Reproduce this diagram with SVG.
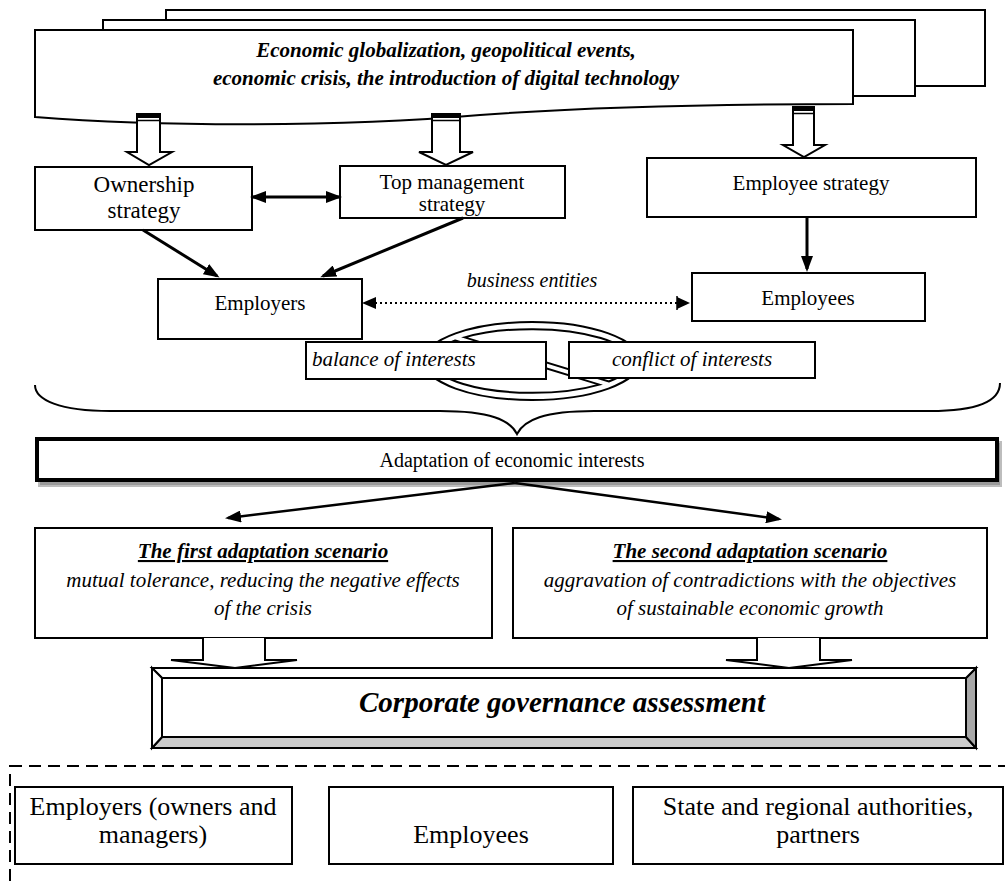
<svg xmlns="http://www.w3.org/2000/svg" width="1005" height="886" viewBox="0 0 1005 886">
<style>
.box{fill:#fff;stroke:#000;stroke-width:2}
.t{font-family:"Liberation Serif","Times New Roman","DejaVu Serif",serif;fill:#000}
.bi{font-weight:bold;font-style:italic}
.i{font-style:italic}
.ln{fill:none;stroke:#000;stroke-width:3}
.blk{fill:#fff;stroke:#000;stroke-width:2;stroke-linejoin:miter}
</style>
<defs>
<marker id="ah" viewBox="0 0 16 12" markerWidth="16" markerHeight="12" refX="13" refY="6" orient="auto-start-reverse" markerUnits="userSpaceOnUse">
<path d="M0,0 L16,6 L0,12 Z" fill="#000"/>
</marker>
</defs>

<g id="events">
<rect x="166" y="10" width="819" height="76" class="box"/>
<rect x="103" y="20" width="812" height="76" class="box"/>
<path d="M35,30 H853 V104 C760,104 600,106 480,115 C330,128 150,126 35,117 Z" class="box"/>
<text class="t bi" font-size="21" text-anchor="middle" x="446" y="57">Economic globalization, geopolitical events,</text>
<text class="t bi" font-size="21" text-anchor="middle" x="446" y="85">economic crisis, the introduction of digital technology</text>
</g>

<g id="block-arrows-top">
<path class="blk" d="M137,113 V152 H127 L149,165 L172,152 H160 V113"/>
<rect x="137" y="113" width="23" height="5" fill="#000"/>
<line x1="137" y1="120.5" x2="160" y2="120.5" stroke="#000" stroke-width="1.5"/>
<path class="blk" d="M432,113 V152 H419 L446,165 L473,152 H460 V113"/>
<rect x="432" y="113" width="28" height="5" fill="#000"/>
<line x1="432" y1="120.5" x2="460" y2="120.5" stroke="#000" stroke-width="1.5"/>
<path class="blk" d="M793,106 V145 H783 L804,157 L825,145 H814 V106"/>
<rect x="793" y="106" width="21" height="5" fill="#000"/>
<line x1="793" y1="113.5" x2="814" y2="113.5" stroke="#000" stroke-width="1.5"/>
</g>

<g id="ownership">
<rect x="35" y="167" width="217" height="63" class="box"/>
<text class="t" font-size="23" text-anchor="middle" x="144" y="192">Ownership</text>
<text class="t" font-size="23" text-anchor="middle" x="144" y="218">strategy</text>
</g>

<g id="topmanagement">
<rect x="340" y="166" width="225" height="52" class="box"/>
<text class="t" font-size="21" text-anchor="middle" x="452" y="189">Top management</text>
<text class="t" font-size="21" text-anchor="middle" x="452" y="211">strategy</text>
</g>

<g id="employeestrategy">
<rect x="647" y="158" width="329" height="59" class="box"/>
<text class="t" font-size="21" text-anchor="middle" x="811" y="190">Employee strategy</text>
</g>

<g id="employers">
<rect x="158" y="279" width="204" height="60" class="box"/>
<text class="t" font-size="21" text-anchor="middle" x="260" y="310">Employers</text>
</g>

<g id="employees">
<rect x="692" y="273" width="233" height="48" class="box"/>
<text class="t" font-size="21" text-anchor="middle" x="808" y="305">Employees</text>
</g>

<g id="business-entities">
<text class="t i" font-size="20" text-anchor="middle" x="532" y="287">business entities</text>
</g>

<g id="nosign">
<ellipse cx="532" cy="361" rx="108" ry="39" fill="#fff" stroke="#000" stroke-width="2"/>
<path d="M464.6,337.4 A100,32 0 0 1 608.8,381.5 Z" fill="#fff" stroke="#000" stroke-width="2"/>
<path d="M455.2,340.5 L599.4,384.6 A100,32 0 0 1 455.2,340.5 Z" fill="#fff" stroke="#000" stroke-width="2"/>
</g>

<g id="balance">
<rect x="306" y="342" width="240" height="37" class="box"/>
<text class="t i" font-size="21" x="312" y="366">balance of interests</text>
</g>

<g id="conflict">
<rect x="569" y="342" width="246" height="36" class="box"/>
<text class="t i" font-size="21" text-anchor="middle" x="692" y="366">conflict of interests</text>
</g>

<g id="brace">
<path d="M35,385 C35,400 60,411 110,411 L440,411 C490,411 510,420 517,434 C524,420 544,411 594,411 L930,411 C980,411 1000,400 1000,383" fill="none" stroke="#000" stroke-width="2"/>
</g>

<g id="adaptation">
<rect x="39" y="442" width="962" height="44" fill="#9a9a9a" stroke="#bdbdbd" stroke-width="2"/>
<rect x="37" y="439" width="960" height="41" fill="#fff" stroke="#000" stroke-width="4"/>
<text class="t" font-size="20" text-anchor="middle" x="512" y="467">Adaptation of economic interests</text>
</g>

<g id="connectors">
<line x1="253" y1="197" x2="339" y2="197" class="ln" marker-start="url(#ah)" marker-end="url(#ah)"/>
<line x1="143" y1="230" x2="217" y2="276" class="ln" marker-end="url(#ah)"/>
<line x1="463" y1="218" x2="323" y2="276" class="ln" marker-end="url(#ah)"/>
<line x1="807" y1="217" x2="807" y2="269" class="ln" marker-end="url(#ah)"/>
<line x1="375" y1="303" x2="677" y2="303" fill="none" stroke="#000" stroke-width="2" stroke-dasharray="2,3"/>
<path d="M362,303 L376,297 L376,309 Z" fill="#000"/>
<line x1="677" y1="296" x2="677" y2="310" stroke="#000" stroke-width="1.5"/>
<path d="M677,297 L690,303 L677,309 Z" fill="#000"/>
<line x1="515" y1="483" x2="228" y2="518" fill="none" stroke="#000" stroke-width="2.5" marker-end="url(#ah)"/>
<line x1="515" y1="483" x2="779" y2="519" fill="none" stroke="#000" stroke-width="2.5" marker-end="url(#ah)"/>
</g>

<g id="scenario1">
<rect x="35" y="528" width="457" height="110" class="box"/>
<text class="t bi" font-size="21" text-anchor="middle" x="263" y="558" text-decoration="underline">The first adaptation scenario</text>
<text class="t i" font-size="21" text-anchor="middle" x="263" y="587">mutual tolerance, reducing the negative effects</text>
<text class="t i" font-size="21" text-anchor="middle" x="263" y="615">of the crisis</text>
</g>

<g id="scenario2">
<rect x="513" y="528" width="474" height="110" class="box"/>
<text class="t bi" font-size="21" text-anchor="middle" x="750" y="558" text-decoration="underline">The second adaptation scenario</text>
<text class="t i" font-size="21" text-anchor="middle" x="750" y="587">aggravation of contradictions with the objectives</text>
<text class="t i" font-size="21" text-anchor="middle" x="750" y="615">of sustainable economic growth</text>
</g>

<g id="block-arrows-bottom">
<path class="blk" d="M203,638 V660 H171 L235,668 L297,660 H265 V638"/>
<path class="blk" d="M757,638 V660 H726 L789,668 L852,660 H820 V638"/>
</g>

<g id="corporate">
<rect x="152" y="668" width="824" height="80" fill="#fff" stroke="#000" stroke-width="2"/>
<path d="M152,748 L162,737 H966 L976,748 Z" fill="#cccccc" stroke="#000" stroke-width="2"/>
<path d="M976,668 L966,678 V737 L976,748 Z" fill="#a8a8a8" stroke="#000" stroke-width="2"/>
<path d="M152,668 L162,678 H966 L976,668 Z" fill="#fff" stroke="#000" stroke-width="2"/>
<path d="M152,668 L162,678 V737 L152,748 Z" fill="#fff" stroke="#000" stroke-width="2"/>
<text class="t bi" font-size="29" text-anchor="middle" x="562" y="712">Corporate governance assessment</text>
</g>

<g id="stakeholders">
<rect x="10" y="766" width="1010" height="140" fill="none" stroke="#000" stroke-width="2" stroke-dasharray="12,7"/>
</g>

<g id="employers-owners">
<rect x="15" y="787" width="277" height="77" class="box"/>
<text class="t" font-size="26" text-anchor="middle" x="153" y="815">Employers (owners and</text>
<text class="t" font-size="26" text-anchor="middle" x="153" y="843">managers)</text>
</g>

<g id="employees-bottom">
<rect x="329" y="787" width="284" height="77" class="box"/>
<text class="t" font-size="26" text-anchor="middle" x="471" y="843">Employees</text>
</g>

<g id="authorities">
<rect x="633" y="787" width="370" height="77" class="box"/>
<text class="t" font-size="26" text-anchor="middle" x="818" y="815">State and regional authorities,</text>
<text class="t" font-size="26" text-anchor="middle" x="818" y="843">partners</text>
</g>
</svg>
